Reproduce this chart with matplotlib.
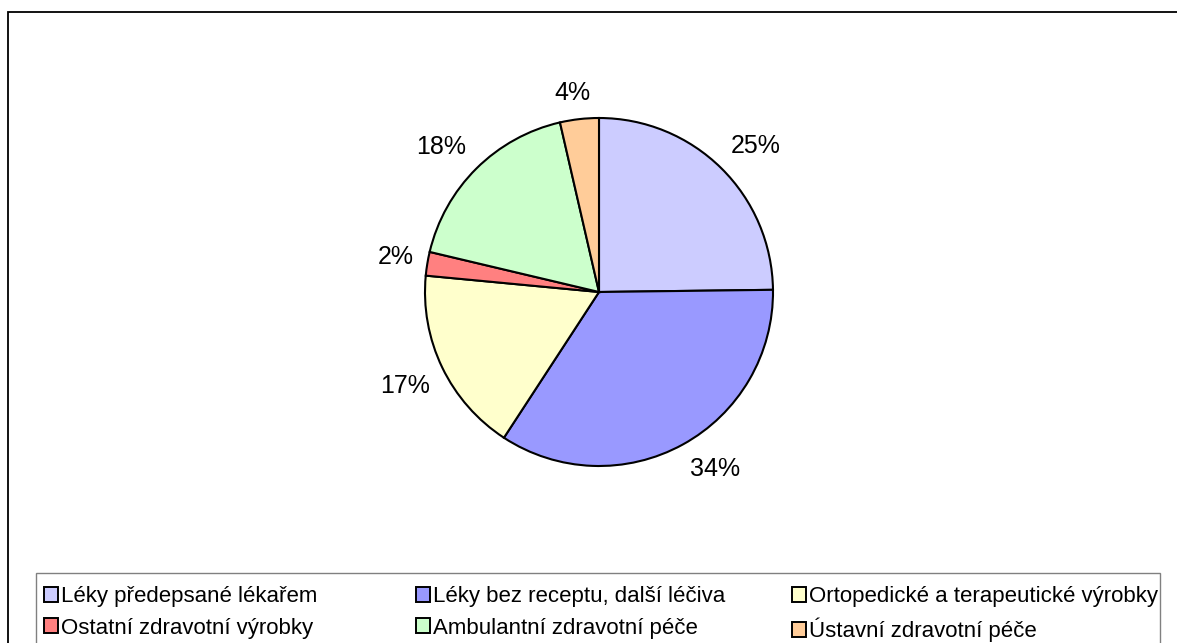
import numpy as np
import matplotlib
matplotlib.use("Agg")
import matplotlib.pyplot as plt
from matplotlib.patches import Patch, Rectangle

plt.rcParams['font.family'] = ['Liberation Sans', 'DejaVu Sans']

categories = ["Léky předepsané lékařem", "Léky bez receptu, další léčiva",
              "Ortopedické a terapeutické výrobky", "Ostatní zdravotní výrobky",
              "Ambulantní zdravotní péče", "Ústavní zdravotní péče"]
shares = [24.8, 34.4, 17.3, 2.2, 17.7, 3.6]
colors = ["#CCCCFF", "#9999FF", "#FFFFCC", "#FF8080", "#CCFFCC", "#FFCC99"]

W, H = 1177, 643
fig = plt.figure(figsize=(W / 100, H / 100), dpi=100)

# outer chart frame (runs off the right and bottom edge)
fig.patches.append(Rectangle((8 / W, -0.1), 1.2, (H - 12) / H + 0.1,
                             transform=fig.transFigure, fill=False,
                             ec='black', lw=1.3))
# legend box
fig.patches.append(Rectangle((36 / W, -0.1), (1160 - 36) / W, (H - 573) / H + 0.1,
                             transform=fig.transFigure, fill=False,
                             ec='#808080', lw=1.0))

# pie axes, sized so one data unit = pie radius
cx, cy, r, lim = 599, 292, 174, 1.45
ax = fig.add_axes([(cx - r * lim) / W, (H - cy - r * lim) / H,
                   2 * r * lim / W, 2 * r * lim / H])
wedges, _ = ax.pie(shares, colors=colors, startangle=90, counterclock=False,
                   radius=1, wedgeprops=dict(edgecolor='black', linewidth=1.5))
ax.set_xlim(-lim, lim)
ax.set_ylim(-lim, lim)
ax.axis('off')

# percentage labels outside the pie
gap = 14 / r
labels = []
for w, v in zip(wedges, shares):
    th = np.deg2rad((w.theta1 + w.theta2) / 2)
    ux, uy = np.cos(th), np.sin(th)
    t = ax.text((1 + gap) * ux, (1 + gap) * uy, f"{v:.0f}%",
                ha='center', va='center', fontsize=18)
    labels.append((t, ux, uy))

# push each label out so its box sits beside the anchor point
fig.canvas.draw()
for t, ux, uy in labels:
    bb = t.get_window_extent()
    x0, y0 = t.get_position()
    sx = np.clip(ux / 0.4, -1, 1)
    sy = np.clip(uy / 0.4, -1, 1)
    t.set_position((x0 + bb.width / 2 / r * sx, y0 + bb.height / 2 / r * sy))

# legend: three columns, two rows
col_x = [44, 416, 792]
row_top = 586
for c in range(3):
    idx = [c, c + 3]
    handles = [Patch(facecolor=colors[i], edgecolor='black', linewidth=1.4) for i in idx]
    fig.legend(handles, [categories[i] for i in idx], loc='upper left',
               bbox_to_anchor=(col_x[c] / W, (H - row_top) / H),
               frameon=False, fontsize=16, handlelength=0.65, handleheight=0.65,
               handletextpad=0.12, labelspacing=0.48, borderpad=0,
               borderaxespad=0)

fig.savefig("out.png", dpi=100)
